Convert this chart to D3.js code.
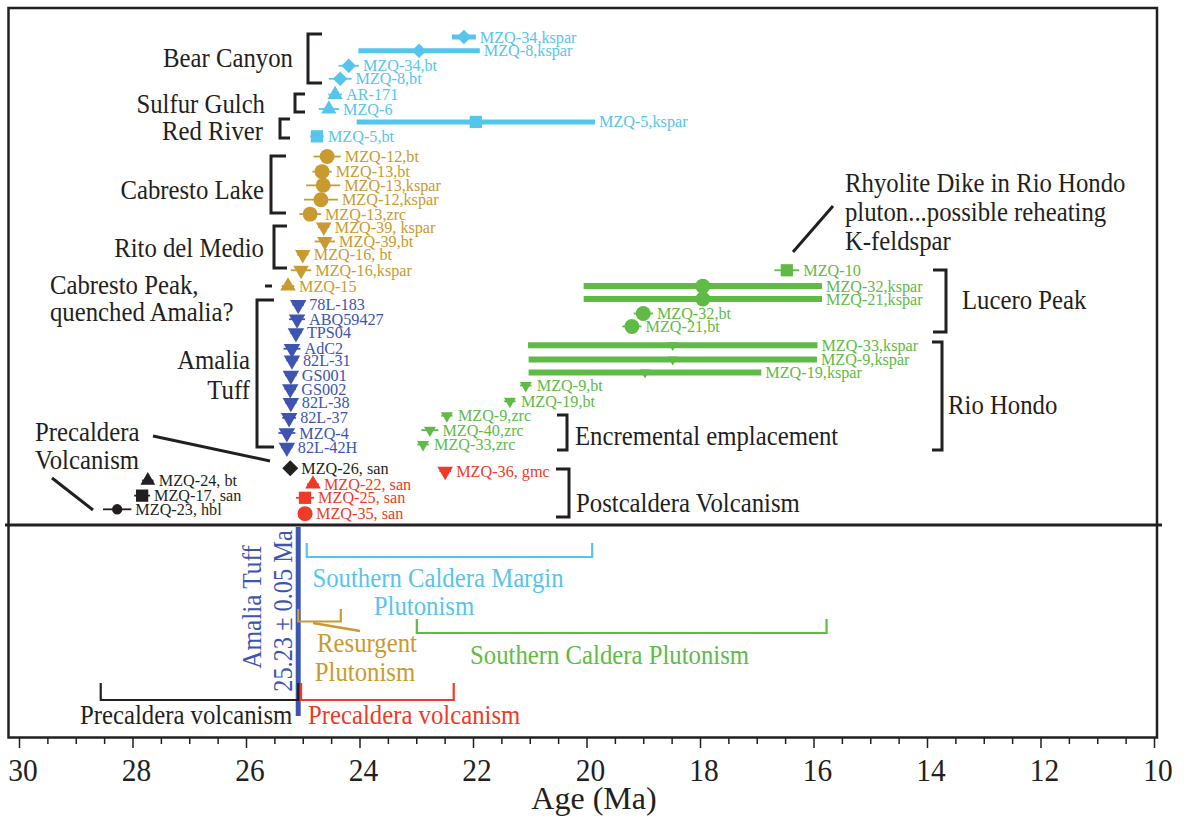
<!DOCTYPE html>
<html>
<head>
<meta charset="utf-8">
<script src="https://cdn.jsdelivr.net/npm/d3@7"></script>
<style>
  body { margin: 0; background: #fff; }
  svg { display: block; }
  text { font-family: "Liberation Serif", "Times New Roman", serif; }
</style>
</head>
<body>
<script>
const sky = '#56c5ec', gold = '#c99a30', navy = '#3d55b0', ink = '#231f20', red = '#ee3a26', green = '#5fba46';

// Southern caldera margin plutons (Bear Canyon, Sulfur Gulch, Red River)
const scmNames = ['MZQ-34,kspar', 'MZQ-8,kspar', 'MZQ-34,bt', 'MZQ-8,bt', 'AR-171', 'MZQ-6', 'MZQ-5,kspar', 'MZQ-5,bt'];
const scmAges = [22.16, 22.95, 24.19, 24.34, 24.43, 24.54, 21.95, 24.75];
const scmErrs = [0.21, 1.07, 0.18, 0.2, 0.12, 0.18, 2.10, 0.12];
const scmRows = [0, 0.95, 2.0, 2.9, 4.0, 5.0, 5.9, 6.9];
const scmShapes = ['diamond', 'diamond', 'diamond', 'diamond', 'triangle', 'triangle', 'square', 'square'];

// Resurgent plutons (Cabresto Lake, Rito del Medio, Cabresto Peak)
const resNames = ['MZQ-12,bt', 'MZQ-13,bt', 'MZQ-13,kspar', 'MZQ-12,kspar', 'MZQ-13,zrc', 'MZQ-39, kspar', 'MZQ-39,bt', 'MZQ-16, bt', 'MZQ-16,kspar', 'MZQ-15'];
const resAges = [24.57, 24.66, 24.64, 24.68, 24.87, 24.63, 24.61, 25.00, 25.03, 25.26];
const resErrs = [0.24, 0.17, 0.30, 0.30, 0.19, 0.10, 0.18, 0.10, 0.18, 0.11];
const resRows = [8.3, 9.35, 10.3, 11.3, 12.3, 13.2, 14.2, 15.1, 16.2, 17.3];
const resShapes = ['circle', 'circle', 'circle', 'circle', 'circle', 'triDown', 'triDown', 'triDown', 'triDown', 'triangle'];

// Amalia Tuff
const amtNames = ['78L-183', 'ABQ59427', 'TPS04', 'AdC2', '82L-31', 'GS001', 'GS002', '82L-38', '82L-37', 'MZQ-4', '82L-42H'];
const amtAges = [25.08, 25.10, 25.12, 25.19, 25.19, 25.21, 25.22, 25.21, 25.24, 25.28, 25.28];
const amtErrs = [0.10, 0.14, 0.10, 0.15, 0.10, 0.10, 0.10, 0.10, 0.12, 0.15, 0.10];
const amtRows = [18.6, 19.6, 20.55, 21.65, 22.45, 23.5, 24.45, 25.4, 26.45, 27.5, 28.5];
const amtShapes = amtNames.map(() => 'triDown');

// Precaldera volcanism
const preNames = ['MZQ-26, san', 'MZQ-24, bt', 'MZQ-17, san', 'MZQ-23, hbl'];
const preAges = [25.22, 27.73, 27.83, 28.27];
const preErrs = [0.08, 0.10, 0.14, 0.25];
const preRows = [29.95, 30.8, 31.85, 32.8];
const preShapes = ['diamond', 'triangle', 'square', 'circle'];

// Postcaldera volcanism
const postNames = ['MZQ-36, gmc', 'MZQ-22, san', 'MZQ-25, san', 'MZQ-35, san'];
const postAges = [22.49, 24.82, 24.96, 24.96];
const postErrs = [0.10, 0.10, 0.16, 0.12];
const postRows = [30.15, 31.05, 32.0, 33.1];
const postShapes = ['triDown', 'triangle', 'square', 'circle'];

// Southern caldera plutons (Lucero Peak, Rio Hondo)
const scpNames = ['MZQ-10', 'MZQ-32,kspar', 'MZQ-21,kspar', 'MZQ-32,bt', 'MZQ-21,bt', 'MZQ-33,kspar', 'MZQ-9,kspar', 'MZQ-19,kspar', 'MZQ-9,bt', 'MZQ-19,bt', 'MZQ-9,zrc', 'MZQ-40,zrc', 'MZQ-33,zrc'];
const scpAges = [16.47, 17.95, 17.95, 19.0, 19.2, 18.48, 18.48, 18.97, 21.07, 21.35, 22.46, 22.76, 22.88];
const scpErrs = [0.22, 2.10, 2.10, 0.17, 0.17, 2.55, 2.54, 2.05, 0.10, 0.10, 0.10, 0.15, 0.10];
const scpRows = [16.2, 17.3, 18.2, 19.2, 20.1, 21.4, 22.4, 23.3, 24.2, 25.3, 26.3, 27.3, 28.3];
const scpShapes = ['square', 'circle', 'circle', 'circle', 'circle', 'triDown', 'triDown', 'triDown', 'triDown', 'triDown', 'triDown', 'triDown', 'triDown'];

// lower panel: magmatic periods (age ranges)
const periodLabels = [['Southern Caldera Margin', 'Plutonism'], ['Resurgent', 'Plutonism'], ['Southern Caldera Plutonism'], ['Precaldera volcanism'], ['Precaldera volcanism']];
const periodOld = [24.93, 25.08, 22.99, 28.56, 25.03];
const periodYoung = [19.9, 24.33, 15.77, 25.08, 22.34];
const amaliaAge = 25.08;
const amaliaText = ['Amalia Tuff', '25.23 \u00b1 0.05 Ma'];

const majorTicks = d3.range(30, 9, -2);
const minorTicks = d3.range(30, 9.9, -0.5).filter(v => v % 2 !== 0);

const width = 1184, height = 818;
const svg = d3.select('body').append('svg').attr('width', width).attr('height', height);

const x = d3.scaleLinear().domain([30, 10]).range([19, 1154]);
const y = d3.scaleLinear().domain([0, 33]).range([37, 512.2]);

function txt(g, str, px, py, opt) {
    opt = opt || {};
    return g.append('text')
        .attr('transform', `translate(${px},${py}) rotate(${opt.rot || 0}) scale(${opt.sx || 1},1)`)
        .attr('text-anchor', opt.anchor || 'start')
        .attr('fill', opt.color || ink)
        .style('font-size', (opt.size || 27.5) + 'px')
        .text(str);
}

// frame + divider
svg.append('rect').attr('x', 8.5).attr('y', 8).attr('width', 1148.5).attr('height', 729.5)
    .attr('fill', 'none').attr('stroke', ink).attr('stroke-width', 2.5);
svg.append('line').attr('x1', 5).attr('x2', 1162).attr('y1', 525).attr('y2', 525)
    .attr('stroke', ink).attr('stroke-width', 3);

// axis
const axisG = svg.append('g').attr('transform', 'translate(0,738)');
axisG.call(d3.axisBottom(x).tickValues(majorTicks).tickSize(10).tickFormat(d3.format('d')))
    .call(g => g.select('.domain').remove())
    .call(g => g.selectAll('line').attr('stroke', ink).attr('stroke-width', 1.5))
    .call(g => g.selectAll('text').attr('y', 43.5).attr('dy', null).attr('fill', ink)
        .attr('transform', 'translate(3.5,0) scale(0.95,1)').style('font-size', '31px').style('font-family', '"Liberation Serif", serif'));
svg.append('g').attr('transform', 'translate(0,738)')
    .call(d3.axisBottom(x).tickValues(minorTicks).tickSize(6).tickFormat(''))
    .call(g => g.select('.domain').remove())
    .call(g => g.selectAll('line').attr('stroke', ink).attr('stroke-width', 1.5));
txt(svg, 'Age (Ma)', 594, 809, { anchor: 'middle', size: 32 });

// data groups
const groups = [
    { color: sky, names: scmNames, ages: scmAges, errs: scmErrs, rows: scmRows, shapes: scmShapes, thick: 5, tri: 100 },
    { color: gold, names: resNames, ages: resAges, errs: resErrs, rows: resRows, shapes: resShapes, thick: 0, tri: 105 },
    { color: navy, names: amtNames, ages: amtAges, errs: amtErrs, rows: amtRows, shapes: amtShapes, thick: 0, tri: 118 },
    { color: ink, names: preNames, ages: preAges, errs: preErrs, rows: preRows, shapes: preShapes, thick: 0, tri: 95, small: true },
    { color: red, names: postNames, ages: postAges, errs: postErrs, rows: postRows, shapes: postShapes, thick: 0, tri: 105 },
    { color: green, names: scpNames, ages: scpAges, errs: scpErrs, rows: scpRows, shapes: scpShapes, thick: 6, tri: 62 }
];

const symbolOf = {
    diamond: d3.symbolSquare, square: d3.symbolSquare, circle: d3.symbolCircle,
    triangle: d3.symbolTriangle, triDown: d3.symbolTriangle
};

function markerSize(d, grp) {
    if (d.shape === 'diamond') return grp.small ? 128 : 105;
    if (d.shape === 'square') return 150;
    if (d.shape === 'circle') return grp.small ? 85 : 175;
    if (grp.color === green && d.err > 1) return 45;
    return grp.tri;
}

groups.forEach(grp => {
    const rows = grp.names.map((n, i) => ({
        name: n, age: grp.ages[i], err: grp.errs[i], row: grp.rows[i], shape: grp.shapes[i]
    }));
    const g = svg.append('g');
    const thickOf = d => (grp.thick && d.name.indexOf('kspar') >= 0) ? grp.thick : 1.8;

    g.selectAll('line.err').data(rows).enter().append('line')
        .attr('x1', d => x(d.age + d.err)).attr('x2', d => x(d.age - d.err))
        .attr('y1', d => y(d.row)).attr('y2', d => y(d.row))
        .attr('stroke', grp.color).attr('stroke-width', thickOf);

    g.selectAll('path.mk').data(rows).enter().append('path')
        .attr('d', d => d3.symbol(symbolOf[d.shape], markerSize(d, grp))())
        .attr('transform', d => {
            const rot = d.shape === 'diamond' ? 45 : d.shape === 'triDown' ? 180 : 0;
            return `translate(${x(d.age)},${y(d.row)}) rotate(${rot})`;
        })
        .attr('fill', grp.color);

    g.selectAll('text.lb').data(rows).enter().append('text')
        .attr('x', d => Math.max(x(d.age - d.err), x(d.age) + 7) + 4)
        .attr('y', d => y(d.row) + 5.5)
        .attr('fill', grp.color)
        .style('font-size', '16.2px')
        .text(d => d.name);
});

// brackets and annotations (upper panel)
function bracket(x0, y0, y1, tip, color, w) {
    svg.append('path')
        .attr('d', `M${tip},${y0}H${x0}V${y1}H${tip}`)
        .attr('fill', 'none').attr('stroke', color || ink).attr('stroke-width', w || 3);
}
bracket(308, 34, 83, 322);
bracket(295, 94, 112, 305);
bracket(280, 119, 138, 290);
bracket(271, 156, 213, 286);
bracket(274, 226, 268, 287);
svg.append('line').attr('x1', 265).attr('x2', 272).attr('y1', 286).attr('y2', 286).attr('stroke', ink).attr('stroke-width', 3);
bracket(257, 300, 447, 274);
bracket(567, 415, 450, 557);
bracket(569, 469, 517, 556);
bracket(946, 270, 332, 933);
bracket(942, 342, 450, 932);

const A = { sx: 0.9, size: 27.5 };
txt(svg, 'Bear Canyon', 293, 67, { ...A, anchor: 'end' });
txt(svg, 'Sulfur Gulch', 265, 113, { ...A, anchor: 'end' });
txt(svg, 'Red River', 263, 140, { ...A, anchor: 'end' });
txt(svg, 'Cabresto Lake', 264, 199, { ...A, anchor: 'end' });
txt(svg, 'Rito del Medio', 264, 257, { ...A, anchor: 'end' });
txt(svg, 'Cabresto Peak,', 50, 294, A);
txt(svg, 'quenched Amalia?', 50, 321, A);
txt(svg, 'Amalia', 250, 369, { ...A, anchor: 'end' });
txt(svg, 'Tuff', 250, 399, { ...A, anchor: 'end' });
txt(svg, 'Precaldera', 35, 441, A);
txt(svg, 'Volcanism', 35, 469, A);
txt(svg, 'Encremental emplacement', 575, 445, A);
txt(svg, 'Postcaldera Volcanism', 576, 512, A);
txt(svg, 'Lucero Peak', 962, 309, A);
txt(svg, 'Rio Hondo', 948, 414, A);
txt(svg, 'Rhyolite Dike in Rio Hondo', 845, 192, A);
txt(svg, 'pluton...possible reheating', 845, 221, A);
txt(svg, 'K-feldspar', 845, 250, A);

function pointer(x1, y1, x2, y2, color, w) {
    svg.append('line').attr('x1', x1).attr('y1', y1).attr('x2', x2).attr('y2', y2)
        .attr('stroke', color || ink).attr('stroke-width', w || 3);
}
pointer(153, 436, 270, 461);
pointer(52, 478, 93, 510);
pointer(833, 206, 793, 252);

// lower panel
svg.append('line').attr('x1', x(amaliaAge)).attr('x2', x(amaliaAge)).attr('y1', 527).attr('y2', 716)
    .attr('stroke', navy).attr('stroke-width', 5);
txt(svg, amaliaText[0], 261, 607, { rot: -90, sx: 0.9, size: 28, anchor: 'middle', color: navy });
txt(svg, amaliaText[1], 292, 611, { rot: -90, sx: 0.87, size: 28, anchor: 'middle', color: navy });

// bracket level, tick top, colour, label placement for each period
const periodStyle = [
    { c: sky, yb: 557, yt: 543, lab: [[438, 587, 'middle'], [424, 615, 'middle']] },
    { c: gold, yb: 621.5, yt: 609, lab: [[367, 652, 'middle'], [365, 681, 'middle']] },
    { c: green, yb: 633, yt: 619, lab: [[470, 664, 'start']] },
    { c: ink, yb: 700, yt: 683, lab: [[80, 724, 'start']] },
    { c: red, yb: 700, yt: 683, lab: [[308, 724, 'start']] }
];
periodLabels.forEach((lines, i) => {
    const st = periodStyle[i];
    const x0 = x(periodOld[i]), x1 = x(periodYoung[i]);
    svg.append('path')
        .attr('d', `M${x0},${st.yt}V${st.yb}H${x1}V${st.yt}`)
        .attr('fill', 'none').attr('stroke', st.c).attr('stroke-width', 2.2);
    lines.forEach((s, j) => {
        const p = st.lab[j];
        txt(svg, s, p[0], p[1], { ...A, anchor: p[2], color: st.c });
    });
});
pointer(313, 623, 360, 631, gold, 2.5);
</script>
</body>
</html>
